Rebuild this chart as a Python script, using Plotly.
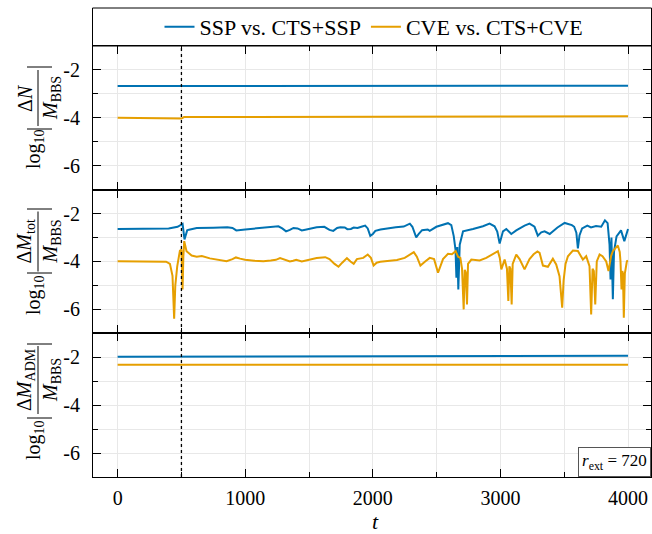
import plotly.graph_objects as go
from plotly.subplots import make_subplots

# ---------------- data ----------------
series_names = ["SSP vs. CTS+SSP", "CVE vs. CTS+CVE"]

# panel 1: log10 |ΔN / M_BBS|
t_N = [0, 480, 500, 520, 1000, 2000, 3000, 4000]
N_ssp = [-2.67, -2.67, -2.67, -2.67, -2.67, -2.67, -2.67, -2.66]
N_cve = [-4.00, -4.00, -4.03, -3.97, -3.97, -3.95, -3.94, -3.93]

# panel 2: log10 |ΔM_tot / M_BBS|
t_M_ssp = [0, 200, 400, 470, 509, 524, 545, 560, 620, 750, 860, 900, 930, 1000, 1060,
           1150, 1220, 1260, 1290, 1320, 1350, 1378, 1410, 1443, 1480, 1560, 1620, 1660,
           1690, 1720, 1745, 1780, 1800, 1828, 1850, 1880, 1910, 1940, 1960, 1980, 2000,
           2020, 2060, 2113, 2180, 2242, 2270, 2290, 2310, 2340, 2360, 2386, 2430, 2446,
           2498, 2550, 2589, 2615, 2634, 2648, 2655, 2662, 2670, 2681, 2707, 2785, 2863,
           2915, 2954, 2975, 2994, 3020, 3046, 3085, 3124, 3189, 3228, 3267, 3293, 3320,
           3346, 3386, 3447, 3503, 3526, 3560, 3578, 3595, 3607, 3620, 3640, 3681, 3710,
           3749, 3790, 3819, 3840, 3855, 3863, 3870, 3881, 3890, 3910, 3924, 3945, 3971,
           3985, 4000]
M_ssp = [-2.64, -2.63, -2.62, -2.55, -2.43, -3.08, -2.70, -2.67, -2.60, -2.59, -2.57, -2.60,
         -2.70, -2.66, -2.63, -2.60, -2.57, -2.53, -2.62, -2.74, -2.68, -2.60, -2.62, -2.70,
         -2.66, -2.57, -2.55, -2.68, -2.72, -2.60, -2.57, -2.58, -2.65, -2.64, -2.58, -2.60,
         -2.55, -2.50, -2.62, -2.93, -2.85, -2.72, -2.66, -2.61, -2.57, -2.54, -2.48, -2.42,
         -2.55, -2.99, -2.85, -2.69, -2.66, -2.72, -2.55, -2.45, -2.40, -2.48, -2.94, -3.50,
         -4.68, -3.40, -5.17, -3.30, -2.74, -2.64, -2.53, -2.42, -2.53, -2.75, -3.25, -2.74,
         -2.64, -2.85, -2.70, -2.50, -2.42, -2.55, -2.92, -2.78, -2.74, -2.85, -2.58, -2.39,
         -2.42, -2.48, -2.55, -2.80, -3.45, -2.90, -2.62, -2.50, -2.58, -2.52, -2.55, -2.28,
         -2.40, -3.30, -4.75, -3.00, -5.58, -3.60, -2.95, -2.85, -2.70, -3.15, -2.85, -2.64]

t_M_cve = [0, 200, 380, 410, 430, 443, 452, 467, 488, 500, 509, 515, 522, 540, 580, 620,
           660, 723, 800, 854, 900, 927, 960, 998, 1070, 1142, 1200, 1240, 1273, 1310, 1350,
           1375, 1400, 1443, 1500, 1560, 1627, 1660, 1700, 1731, 1760, 1797, 1825, 1850,
           1875, 1900, 1925, 1960, 1985, 2006, 2030, 2058, 2120, 2189, 2250, 2290, 2321,
           2345, 2373, 2410, 2446, 2480, 2511, 2550, 2589, 2620, 2649, 2668, 2686, 2699,
           2712, 2720, 2728, 2738, 2746, 2772, 2837, 2889, 2941, 2980, 2995, 3007, 3033,
           3051, 3062, 3070, 3078, 3088, 3096, 3124, 3150, 3189, 3228, 3260, 3290, 3307,
           3333, 3372, 3411, 3437, 3463, 3484, 3495, 3510, 3529, 3568, 3607, 3646, 3672,
           3698, 3711, 3722, 3732, 3743, 3755, 3777, 3800, 3829, 3847, 3868, 3881, 3920,
           3935, 3941, 3949, 3955, 3960, 3967, 3975, 3991, 4000]
M_cve = [-3.99, -4.00, -4.01, -4.10, -4.60, -6.39, -5.00, -4.20, -3.55, -3.50, -5.17, -3.80,
         -3.15, -3.57, -3.75, -3.80, -3.77, -3.87, -3.95, -3.99, -3.90, -3.83, -3.88, -3.93,
         -3.97, -3.99, -3.96, -3.93, -3.86, -3.92, -4.00, -3.97, -3.93, -4.00, -3.93, -3.85,
         -3.82, -3.90, -4.10, -4.22, -4.05, -3.86, -4.00, -4.10, -3.90, -3.86, -3.85, -3.71,
         -3.85, -4.17, -4.05, -4.01, -3.97, -3.94, -3.85, -3.72, -3.61, -3.80, -4.17, -4.00,
         -3.85, -3.90, -4.47, -3.90, -3.68, -3.70, -3.57, -3.80, -3.85, -4.30, -6.00, -4.35,
         -4.45, -5.79, -4.10, -3.92, -3.96, -3.85, -3.71, -3.57, -3.85, -4.33, -3.92, -4.30,
         -5.65, -4.20, -4.30, -5.79, -4.10, -3.71, -3.90, -4.33, -3.90, -3.70, -3.58, -3.64,
         -4.17, -4.22, -3.88, -4.12, -4.61, -5.93, -4.80, -4.10, -3.78, -3.54, -3.56, -3.92,
         -3.78, -4.20, -6.21, -4.30, -4.40, -5.79, -4.00, -3.71, -3.78, -4.00, -4.40, -3.75,
         -3.57, -3.33, -3.60, -4.00, -5.17, -4.40, -4.50, -6.35, -4.50, -3.99, -3.97]

# panel 3: log10 |ΔM_ADM / M_BBS|
t_A = [0, 1000, 2000, 3000, 4000]
A_ssp = [-1.98, -1.97, -1.96, -1.95, -1.94]
A_cve = [-2.31, -2.31, -2.31, -2.31, -2.31]

x_major = [0, 1000, 2000, 3000, 4000]
x_minor = [500, 1500, 2500, 3500]
y_major = [-6, -4, -2]
y_major_text = ["-6", "-4", "-2"]
y_minor = [-7, -5, -3, -1]
t_marker = 500
r_ext = 720

# ---------------- style ----------------
FONT = "'Liberation Serif', 'DejaVu Serif', 'Times New Roman', serif"
colors = ["#0072B2", "#E69F00"]
W, H = 652, 534
L, R, T, B = 93, 1, 46, 57
PW, PH = W - L - R, H - T - B


def px2x(px):
    return (px - L) / PW


def py2y(py):
    return (H - B - py) / PH


fig = make_subplots(rows=3, cols=1, shared_xaxes=True, vertical_spacing=0)

panels = [(t_N, N_ssp, t_N, N_cve), (t_M_ssp, M_ssp, t_M_cve, M_cve), (t_A, A_ssp, t_A, A_cve)]
for i, (ta, ya, tb, yb) in enumerate(panels):
    fig.add_trace(go.Scatter(x=ta, y=ya, mode="lines", name=series_names[0],
                             line=dict(color=colors[0], width=2), showlegend=(i == 0),
                             legendgroup="a"), row=i + 1, col=1)
    fig.add_trace(go.Scatter(x=tb, y=yb, mode="lines", name=series_names[1],
                             line=dict(color=colors[1], width=2), showlegend=(i == 0),
                             legendgroup="b"), row=i + 1, col=1)

grid = "#e8e8e8"
for i in range(1, 4):
    fig.update_yaxes(range=[-7, -1], tickmode="array", tickvals=y_major, ticktext=y_major_text,
                     ticks="inside", ticklen=8, tickwidth=1, tickcolor="black",
                     showline=True, linecolor="black", linewidth=1, mirror="ticks",
                     showgrid=True, gridcolor=grid, gridwidth=1, zeroline=False,
                     ticklabelstandoff=8,
                     tickfont=dict(family=FONT, size=20, color="black"),
                     minor=dict(tickmode="array", tickvals=y_minor, ticks="inside", ticklen=5,
                                tickcolor="black", showgrid=True, gridcolor=grid, gridwidth=1),
                     row=i, col=1)
    fig.update_xaxes(range=[-193, 4180], tickmode="array", tickvals=x_major,
                     ticks="inside", ticklen=8, tickwidth=1, tickcolor="black",
                     showline=True, linecolor="black", linewidth=1, mirror="ticks",
                     showgrid=True, gridcolor=grid, gridwidth=1, zeroline=False,
                     ticklabelstandoff=3,
                     tickfont=dict(family=FONT, size=20, color="black"),
                     minor=dict(tickmode="array", tickvals=x_minor, ticks="inside", ticklen=5,
                                tickcolor="black", showgrid=True, gridcolor=grid, gridwidth=1),
                     row=i, col=1)

shapes = []
# dotted marker line
shapes.append(dict(type="line", xref="x", yref="paper", x0=t_marker, x1=t_marker, y0=0, y1=1,
                   line=dict(color="black", width=1.3, dash="dot")))
# legend box
shapes.append(dict(type="rect", xref="paper", yref="paper", x0=px2x(92.5), x1=px2x(651.5),
                   y0=py2y(46), y1=py2y(8), line=dict(color="black", width=1)))

annotations = []
# y-axis labels built as rotated fractions
labels = [
    dict(num="Δ<i>N</i>", c=98, half=28, log=149, lb=129, rb=67),
    dict(num="Δ<i>M</i><sub>tot</sub>", c=241.5, half=30, log=295, lb=273, rb=209),
    dict(num="Δ<i>M</i><sub>ADM</sub>", c=380, half=34, log=440, lb=418, rb=344),
]
for lab in labels:
    f = dict(family=FONT, size=20, color="black")
    annotations.append(dict(text="log<sub>10</sub>", xref="paper", yref="paper",
                            x=px2x(34), y=py2y(lab["log"]), textangle=-90,
                            xanchor="center", yanchor="middle", showarrow=False, font=f))
    annotations.append(dict(text=lab["num"], xref="paper", yref="paper",
                            x=px2x(25), y=py2y(lab["c"]), textangle=-90,
                            xanchor="center", yanchor="middle", showarrow=False, font=f))
    annotations.append(dict(text="<i>M</i><sub>BBS</sub>", xref="paper", yref="paper",
                            x=px2x(51), y=py2y(lab["c"]), textangle=-90,
                            xanchor="center", yanchor="middle", showarrow=False, font=f))
    shapes.append(dict(type="line", xref="paper", yref="paper", x0=px2x(38), x1=px2x(38),
                       y0=py2y(lab["c"] - lab["half"]), y1=py2y(lab["c"] + lab["half"]),
                       line=dict(color="black", width=1)))
    for bpos in (lab["lb"], lab["rb"]):
        shapes.append(dict(type="line", xref="paper", yref="paper", x0=px2x(27), x1=px2x(52),
                           y0=py2y(bpos), y1=py2y(bpos), line=dict(color="black", width=1)))

# x-axis title
annotations.append(dict(text="<i>t</i>", xref="paper", yref="paper", x=px2x(375), y=py2y(521),
                        xanchor="center", yanchor="middle", showarrow=False,
                        font=dict(family=FONT, size=22, color="black")))
# r_ext box
annotations.append(dict(text="<i>r</i><sub>ext</sub> = %d" % r_ext, xref="paper", yref="paper",
                        x=1, y=0, xanchor="right", yanchor="bottom", showarrow=False,
                        bgcolor="white", bordercolor="#555", borderwidth=1, borderpad=3,
                        font=dict(family=FONT, size=17, color="black")))

fig.update_layout(
    width=W, height=H,
    margin=dict(l=L, r=R, t=T, b=B, pad=0),
    paper_bgcolor="white", plot_bgcolor="white",
    font=dict(family=FONT, color="black"),
    showlegend=True,
    legend=dict(orientation="h", x=px2x(374), xanchor="center", y=py2y(27), yanchor="middle",
                font=dict(family=FONT, size=22, color="black"), bgcolor="rgba(0,0,0,0)",
                itemwidth=30, tracegroupgap=0, itemclick=False),
    shapes=shapes, annotations=annotations,
)

fig.write_html("out.html")
